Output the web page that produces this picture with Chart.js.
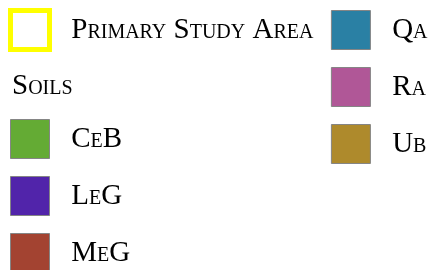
<!DOCTYPE html>
<html>
<head>
<meta charset="utf-8">
<script src="https://cdn.jsdelivr.net/npm/chart.js@4/dist/chart.umd.min.js"></script>
<style>
  html, body { margin: 0; padding: 0; background: #ffffff; overflow: hidden; width: 433px; height: 270px; }
  #wrap { position: absolute; left: -8px; top: -8px; width: 520px; height: 330px; }
</style>
</head>
<body>
<div id="wrap"><canvas id="c"></canvas></div>
<script>
// Legend entries (text) in reading order: first column, then second column
const legendNames = ['Primary Study Area', 'Soils', 'CeB', 'LeG', 'MeG', 'Qa', 'Ra', 'Ub'];
// Which entries are headings (no swatch)
const headingFlags = [false, true, false, false, false, false, false, false];
// Swatch styles
const swatchFill = ['#ffffff', 'rgba(0,0,0,0)', '#64ab34', '#5124aa', '#a34331', '#2a80a4', '#b05797', '#ae8a2c'];
const swatchBorder = ['#ffff00', 'rgba(0,0,0,0)', '#858585', '#858585', '#858585', '#858585', '#858585', '#858585'];
const swatchBorderWidth = [5, 0, 1, 1, 1, 1, 1, 1];

const LABEL_FONT = { family: "'Liberation Serif', serif", size: 29, weight: 'small-caps', lineHeight: '34px' };

const datasets = legendNames.map((name, i) => ({
  label: name,
  data: [],
  backgroundColor: swatchFill[i],
  borderColor: swatchBorder[i],
  borderWidth: swatchBorderWidth[i]
}));

// Draws heading entries (no swatch) flush left in their legend slot
const headingPlugin = {
  id: 'legendHeadings',
  afterDraw(chart) {
    const lg = chart.legend;
    if (!lg || !lg.legendHitBoxes) return;
    const ctx = chart.ctx;
    const boxH = lg.options.labels.boxHeight;
    ctx.save();
    ctx.font = Chart.helpers.toFont(LABEL_FONT).string;
    ctx.fillStyle = '#000000';
    ctx.textAlign = 'left';
    ctx.textBaseline = 'middle';
    legendNames.forEach((name, i) => {
      if (!headingFlags[i]) return;
      const hb = lg.legendHitBoxes[i];
      ctx.fillText(name, hb.left + 1.5, hb.top + boxH / 2 - 1);
    });
    ctx.restore();
  }
};

new Chart(document.getElementById('c'), {
  type: 'bar',
  data: { labels: [], datasets },
  plugins: [headingPlugin],
  options: {
    responsive: true,
    maintainAspectRatio: false,
    animation: false,
    devicePixelRatio: 1,
    layout: { padding: { left: 0.5, top: 0.5, right: 0, bottom: 0 } },
    scales: { x: { display: false }, y: { display: false } },
    plugins: {
      tooltip: { enabled: false },
      legend: {
        display: true,
        position: 'left',
        align: 'start',
        maxWidth: 1000,
        labels: {
          boxWidth: 39,
          boxHeight: 39,
          padding: 18,
          color: '#000000',
          font: LABEL_FONT,
          generateLabels(chart) {
            return chart.data.datasets.map((ds, i) => {
              const heading = headingFlags[i];
              return {
                text: heading ? [''] : '\u2005' + ds.label,
                fillStyle: ds.backgroundColor,
                strokeStyle: ds.borderColor,
                lineWidth: ds.borderWidth,
                fontColor: '#000000',
                hidden: false,
                datasetIndex: i,
                textAlign: 'left'
              };
            });
          }
        }
      }
    }
  }
});
</script>
</body>
</html>
